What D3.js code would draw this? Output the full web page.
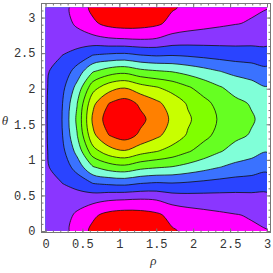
<!DOCTYPE html>
<html>
<head>
	<title></title>
	<meta charset="utf-8">
	<script src="https://d3js.org/d3.v7.min.js"></script>
	<style>
		body { margin: 0; background: #fff; }
		.lab { font-family: "Liberation Mono", monospace; font-size: 12px; fill: #333; }
		.greek { font-family: "Liberation Serif", serif; font-style: italic; font-size: 13px; fill: #333; }
	</style>
</head>
<body>
<div id="my_dataviz"></div>
<script>

// contour levels sampled on the 15 x 15 grid (rows = theta from 0 to pi, columns = rho from 0 to 3)
var rhoRange = [0, 3];
var thetaRange = [0, Math.PI];

var row0 = [8.1, 8.6, 9.4, 10.25, 10.8, 11.0, 10.9, 10.65, 10.1, 9.8, 9.6, 9.42, 9.27, 9.14, 9.02];
var row1 = [8.1, 8.53, 9.17, 9.83, 10.29, 10.46, 10.40, 10.19, 9.71, 9.46, 9.30, 9.16, 9.04, 8.93, 8.84];
var row2 = [8.1, 8.32, 8.53, 8.66, 8.86, 8.93, 8.99, 8.92, 8.60, 8.49, 8.45, 8.42, 8.39, 8.34, 8.32];
var row3 = [8.1, 8.02, 7.61, 6.97, 6.80, 6.72, 6.95, 7.07, 7.01, 7.10, 7.23, 7.35, 7.45, 7.49, 7.57];
var row4 = [8.1, 7.68, 6.59, 5.08, 4.50, 4.28, 4.70, 4.90, 5.05, 5.33, 5.65, 5.98, 6.27, 6.45, 6.72];
var row5 = [8.1, 7.38, 5.67, 3.39, 2.44, 2.07, 2.60, 2.95, 3.35, 3.90, 4.42, 4.92, 5.35, 5.62, 5.95];
var row6 = [8.1, 7.17, 5.03, 2.22, 1.01, 0.54, 1.18, 1.78, 2.43, 3.10, 3.72, 4.30, 4.78, 5.07, 5.45];
var row7 = [8.1, 7.1, 4.8, 1.8, 0.5, 0.0, 0.75, 1.45, 2.15, 2.85, 3.5, 4.1, 4.6, 4.9, 5.3];
var grid = [row0, row1, row2, row3, row4, row5, row6, row7, row6, row5, row4, row3, row2, row1, row0];

var levels = [0, 1, 2, 3, 4, 5, 6, 7, 8, 9, 10];
var bandColors = ["#ff0000", "#ff8000", "#c8ff00", "#80ff00", "#66ff22", "#80ffd8",
                  "#3a72ff", "#2a44ff", "#8a36ff", "#ff00ff", "#ff0000"];

var majorTicks = [0, 0.5, 1, 1.5, 2, 2.5, 3];
var rhoMinor = d3.range(0, 3.001, 0.1);
var thetaMinor = d3.range(0, 3.101, 0.1);

var nx = grid[0].length, ny = grid.length;

var svg = d3.select("#my_dataviz")
  .append("svg")
    .attr("width", 273)
    .attr("height", 273);

var x = d3.scaleLinear().domain(rhoRange).range([45.5, 267]);
var y = d3.scaleLinear().domain(thetaRange).range([231, 7.5]);

// grid index -> screen (d3.contours puts sample i at i + 0.5)
var gx = d3.scaleLinear().domain([0.5, nx - 0.5]).range([x(rhoRange[0]), x(rhoRange[1])]);
var gy = d3.scaleLinear().domain([0.5, ny - 0.5]).range([y(thetaRange[0]), y(thetaRange[1])]);

var ringLine = d3.line()
  .x(function(p) { return gx(p[0]); })
  .y(function(p) { return gy(p[1]); })
  .curve(d3.curveCatmullRomClosed.alpha(0.5));

function contourPath(mp) {
  var d = "";
  mp.coordinates.forEach(function(poly) {
    poly.forEach(function(ring) {
      d += ringLine(ring.slice(0, -1));
    });
  });
  return d;
}

var values = [].concat.apply([], grid);
var contours = d3.contours().size([nx, ny]).thresholds(levels)(values);

svg.append("clipPath").attr("id", "clip")
  .append("rect")
    .attr("x", x(0)).attr("y", y(Math.PI))
    .attr("width", x(3) - x(0)).attr("height", y(0) - y(Math.PI));

var plot = svg.append("g").attr("clip-path", "url(#clip)");

plot.selectAll("path.band")
  .data(contours)
  .enter().append("path")
    .attr("class", "band")
    .attr("d", contourPath)
    .attr("fill-rule", "evenodd")
    .attr("fill", function(d, i) { return bandColors[i]; });

plot.selectAll("path.line")
  .data(contours.filter(function(d) { return d.value > 0; }))
  .enter().append("path")
    .attr("class", "line")
    .attr("d", contourPath)
    .attr("fill", "none")
    .attr("stroke", "#111")
    .attr("stroke-width", 0.8);

// frame
var fx0 = 41.5, fx1 = 270.5, fy0 = 3.5, fy1 = 232.5;
svg.append("rect")
  .attr("x", fx0).attr("y", fy0)
  .attr("width", fx1 - fx0).attr("height", fy1 - fy0)
  .attr("fill", "none").attr("stroke", "#777").attr("stroke-width", 1);

function frameAxis(axis, tr) {
  var g = svg.append("g").attr("transform", tr).call(axis);
  g.select(".domain").remove();
  g.selectAll(".tick line").attr("stroke", "#777");
  g.selectAll(".tick text").attr("class", "lab").attr("fill", null)
    .style("font-family", null).style("font-size", null);
  g.attr("font-family", null).attr("font-size", null);
  return g;
}

var fmt = function(d) { return String(d); };

frameAxis(d3.axisBottom(x).tickValues(majorTicks).tickSize(-4).tickPadding(7).tickFormat(fmt), "translate(0," + fy1 + ")");
frameAxis(d3.axisBottom(x).tickValues(rhoMinor).tickSize(-2).tickFormat(""), "translate(0," + fy1 + ")");
frameAxis(d3.axisTop(x).tickValues(majorTicks).tickSize(-4).tickFormat(""), "translate(0," + fy0 + ")");
frameAxis(d3.axisTop(x).tickValues(rhoMinor).tickSize(-2).tickFormat(""), "translate(0," + fy0 + ")");

frameAxis(d3.axisLeft(y).tickValues(majorTicks).tickSize(-4).tickPadding(6).tickFormat(fmt), "translate(" + fx0 + ",0)");
frameAxis(d3.axisLeft(y).tickValues(thetaMinor).tickSize(-2).tickFormat(""), "translate(" + fx0 + ",0)");
frameAxis(d3.axisRight(y).tickValues(majorTicks).tickSize(-4).tickFormat(""), "translate(" + fx1 + ",0)");
frameAxis(d3.axisRight(y).tickValues(thetaMinor).tickSize(-2).tickFormat(""), "translate(" + fx1 + ",0)");

// frame labels
svg.append("text").attr("class", "greek")
  .attr("x", (x(0) + x(3)) / 2 - 3).attr("y", 265)
  .attr("text-anchor", "middle").text("ρ");
svg.append("text").attr("class", "greek")
  .attr("x", 5).attr("y", 125)
  .attr("text-anchor", "middle").text("θ");

</script>
</body>
</html>
